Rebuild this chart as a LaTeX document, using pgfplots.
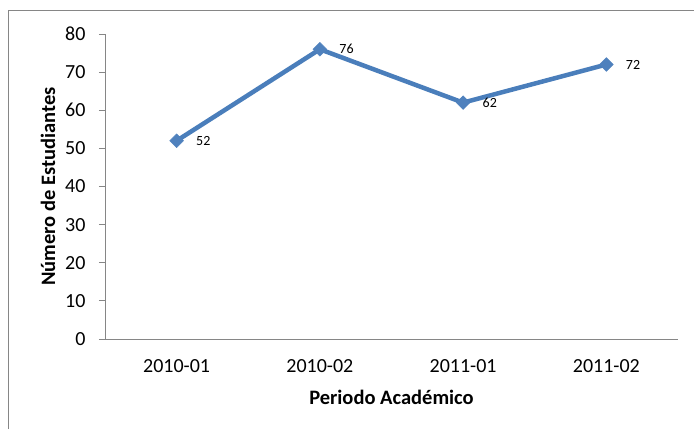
\documentclass[border=0pt]{standalone}
\usepackage{pgfplots}
\pgfplotsset{compat=1.18}
\usepackage{fontspec}
\setmainfont{Carlito}
\definecolor{xlblue}{HTML}{4A7EBB}
\definecolor{xlmark}{HTML}{4F81BD}
\definecolor{xlgray}{HTML}{868686}
\begin{document}
\begin{tikzpicture}
  % chart area border (only left and top are inside the picture)
  \draw[xlgray, line width=0.8pt] (8pt,0pt) -- (8pt,419pt) -- (694pt,419pt);
  \begin{axis}[
    at={(105pt,90pt)}, anchor=south west,
    scale only axis,
    width=573pt, height=305pt,
    xmin=-0.5, xmax=3.5,
    ymin=0, ymax=80,
    ytick distance=10,
    xtick={0,1,2,3},
    xticklabels={2010-01,2010-02,2011-01,2011-02},
    axis x line*=bottom,
    axis y line*=left,
    axis line style={xlgray, line width=0.8pt},
    x axis line style={-},
    y axis line style={-},
    xtick style={draw=none},
    ytick style={xlgray, line width=0.8pt},
    tick align=outside,
    major tick length=6pt,
    /pgf/number format/assume math mode=true,
    tick label style={font=\fontsize{20}{23}\selectfont},
    xticklabel style={yshift=-11pt},
    yticklabel style={xshift=-10pt},
    label style={font=\bfseries\fontsize{20.5}{24}\selectfont},
    xlabel={Periodo Académico},
    ylabel={Número de Estudiantes},
    xlabel style={at={(axis description cs:0.5,-0.19)}, anchor=center},
    ylabel style={at={(axis description cs:-0.0995,0.5)}, anchor=center},
    clip=false,
    nodes near coords,
    every node near coord/.append style={font=\fontsize{14}{16}\selectfont, anchor=west, xshift=16pt, text=black},
  ]
    \addplot[color=xlblue, line width=4.5pt, mark=square*,
             mark options={rotate=45, fill=xlmark, draw=xlmark, line width=0.5pt}, mark size=4.8pt]
      coordinates {(0,52) (1,76) (2,62) (3,72)};
  \end{axis}
  \pgfresetboundingbox
  \path (0pt,0pt) rectangle (694pt,429pt);
\end{tikzpicture}
\end{document}
